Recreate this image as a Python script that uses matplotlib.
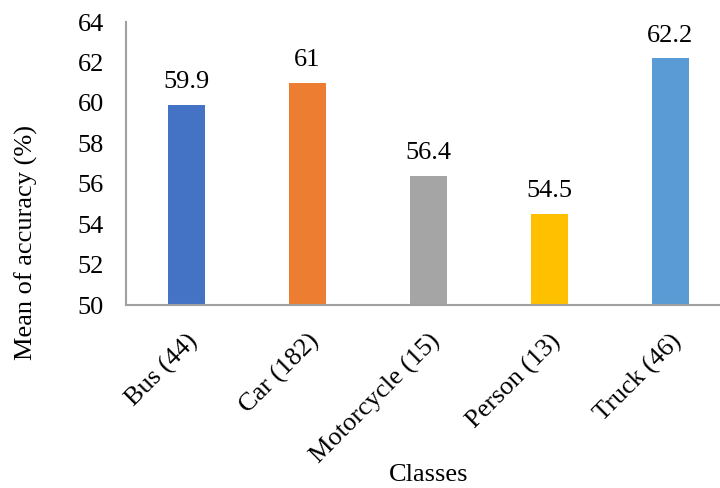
import numpy as np
import matplotlib.pyplot as plt

# data
classes = ['Bus (44)', 'Car (182)', 'Motorcycle (15)', 'Person (13)', 'Truck (46)']
accuracy = [59.9, 61, 56.4, 54.5, 62.2]
colors = ['#4472C4', '#ED7D31', '#A5A5A5', '#FFC000', '#5B9BD5']
yticks = [50, 52, 54, 56, 58, 60, 62, 64]

plt.rcParams['font.family'] = ['Liberation Serif', 'DejaVu Serif']

fig = plt.figure(figsize=(7.2, 4.88), dpi=100)
W, H = 720, 488
# plot area in pixels (right edge runs past the picture, as in the reference)
left, right, top, bottom = 126, 731, 22, 305
ax = fig.add_axes([left / W, (H - bottom) / H, (right - left) / W, (bottom - top) / H])

x = np.arange(len(classes))
ax.bar(x, accuracy, width=0.31, color=colors, zorder=2)

for xi, v in zip(x, accuracy):
    ax.annotate(f'{v:g}', (xi, v), xytext=(0, 12), textcoords='offset points',
                ha='center', va='baseline', fontsize=19)

ax.set_xlim(-0.5, 4.5)
ax.set_ylim(50, 64)
ax.set_yticks(yticks)
ax.set_xticks(x)
ax.set_xticklabels(classes, rotation=45, ha='right', va='top', rotation_mode='anchor')
ax.tick_params(axis='both', length=0, labelsize=19)
ax.tick_params(axis='y', pad=16)
ax.tick_params(axis='x', pad=18)

for s in ['top', 'right']:
    ax.spines[s].set_visible(False)
for s in ['left', 'bottom']:
    ax.spines[s].set_color('#A0A0A0')
    ax.spines[s].set_linewidth(1.5)

ax.set_xlabel('Classes', fontsize=19)
ax.xaxis.set_label_coords(0.5, (H - 475 - (H - bottom)) / (bottom - top))
ax.xaxis.label.set_va('center')
ax.set_ylabel('Mean of accuracy (%)', fontsize=19)
ax.yaxis.set_label_coords((26 - left) / (right - left), (H - 242 - (H - bottom)) / (bottom - top))
ax.yaxis.label.set_va('center')

fig.savefig('out.png', dpi=100)
